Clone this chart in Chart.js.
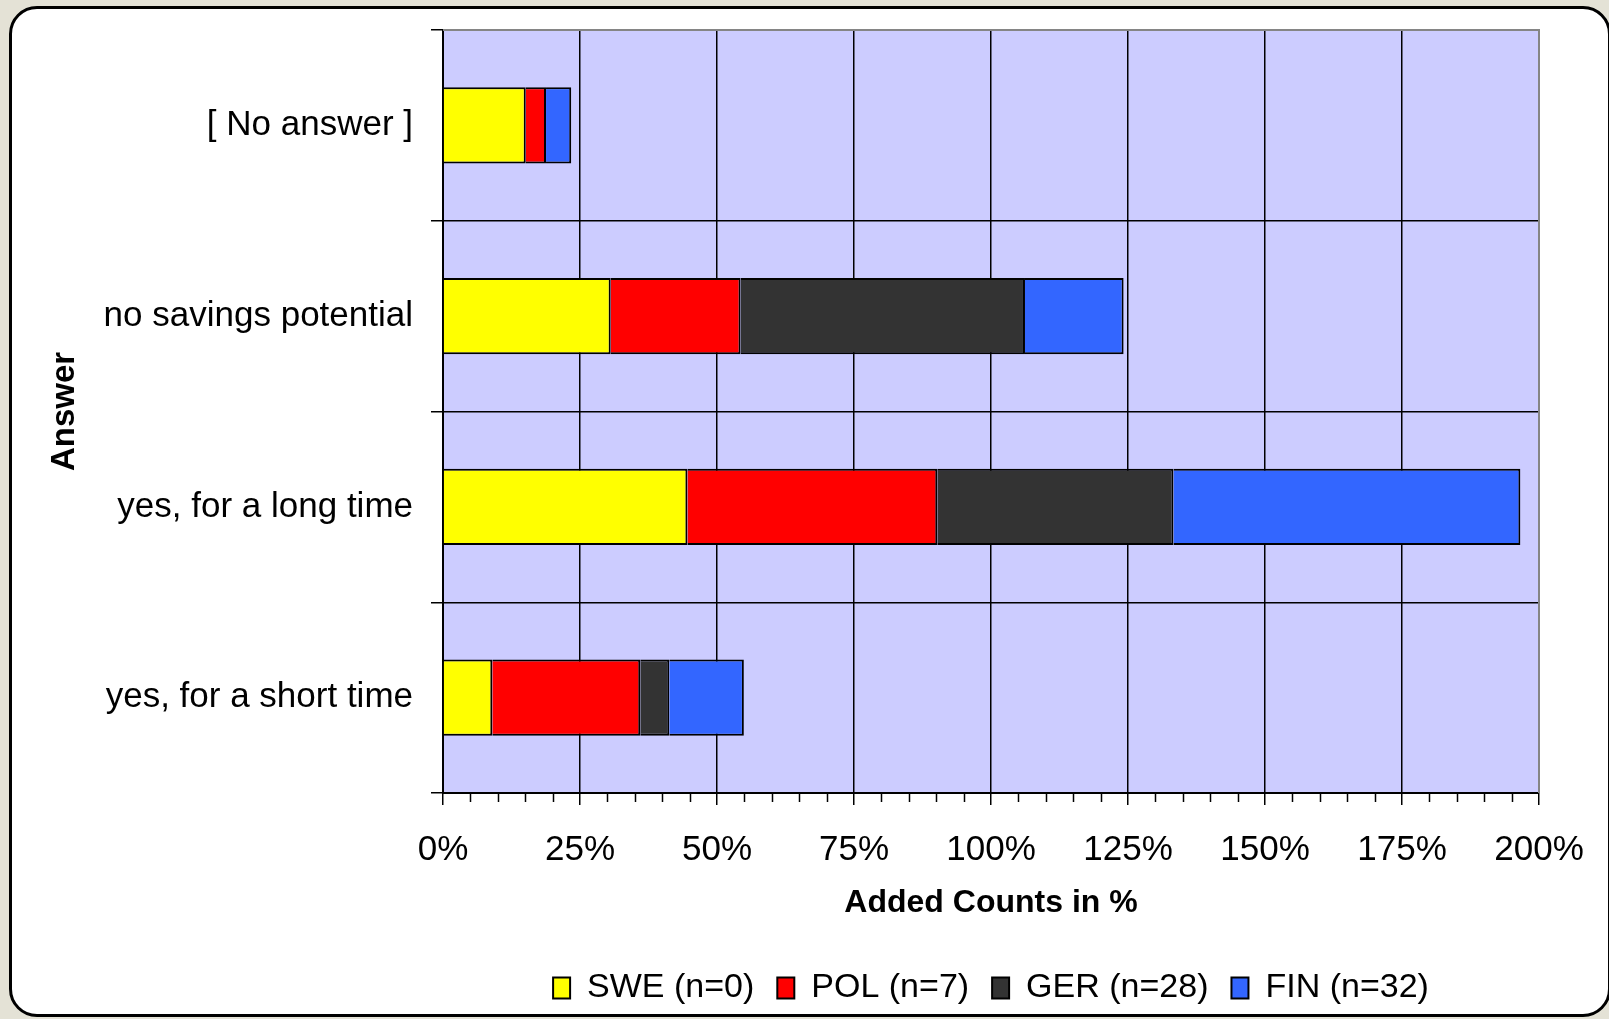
<!DOCTYPE html>
<html>
<head>
<meta charset="utf-8">
<script src="https://cdn.jsdelivr.net/npm/chart.js@4"></script>
<style>
  html, body { margin: 0; padding: 0; overflow: hidden; background: #e4e2d6; }
  .frame {
    position: absolute; left: 9px; top: 6px;
    width: 1596px; height: 1005px;
    background: #fff; border: 3px solid #000; border-radius: 28px;
  }
  .wrap { position: absolute; left: 0; top: 0; width: 1609px; height: 1019px; }
</style>
</head>
<body>
<div class="frame"></div>
<div class="wrap"><canvas id="chart"></canvas></div>
<script>
// categories (top to bottom)
const categories = ['[ No answer ]', 'no savings potential', 'yes, for a long time', 'yes, for a short time'];
const seriesNames = ['SWE (n=0)', 'POL (n=7)', 'GER (n=28)', 'FIN (n=32)'];

// added counts in %, one array per country
const swe = [15.1, 30.6, 44.6, 9.0];
const pol = [3.7, 23.7, 45.6, 27.0];
const ger = [0, 51.9, 43.1, 5.3];
const fin = [4.6, 18.0, 63.3, 13.6];

const xMax = 200;
const xStep = 25;
const minorStep = 5;

const colors = ['#ffff00', '#ff0000', '#333333', '#3366ff'];

Chart.defaults.font.family = "'Liberation Sans', Arial, sans-serif";
Chart.defaults.color = '#000';

// plot background, grey top/right frame and minor ticks
const plotDecor = {
    id: 'plotDecor',
    beforeDraw(chart) {
        const { ctx, chartArea: a } = chart;
        ctx.save();
        ctx.fillStyle = '#ccccff';
        ctx.fillRect(a.left, a.top, a.right - a.left, a.bottom - a.top);
        ctx.restore();
    },
    beforeDatasetsDraw(chart) {
        const { ctx, chartArea: a } = chart;
        ctx.save();
        ctx.strokeStyle = '#858585';
        ctx.lineWidth = 2;
        ctx.beginPath();
        ctx.moveTo(a.left, a.top);
        ctx.lineTo(a.right, a.top);
        ctx.lineTo(a.right, a.bottom);
        ctx.stroke();
        // minor ticks under the x axis
        const x = chart.scales.x;
        ctx.strokeStyle = '#000';
        ctx.lineWidth = 1.5;
        ctx.beginPath();
        for (let v = 0; v <= xMax; v += minorStep) {
            if (v % xStep === 0) continue;
            const px = Math.round(x.getPixelForValue(v)) + 0.5;
            ctx.moveTo(px, a.bottom);
            ctx.lineTo(px, a.bottom + 9);
        }
        ctx.stroke();
        ctx.restore();
    }
};

new Chart(document.getElementById('chart'), {
    type: 'bar',
    data: {
        labels: categories,
        datasets: [swe, pol, ger, fin].map((d, i) => ({
            label: seriesNames[i],
            data: d,
            backgroundColor: colors[i],
            borderColor: '#000',
            borderWidth: 2,
            categoryPercentage: 1,
            barPercentage: 0.4
        }))
    },
    options: {
        indexAxis: 'y',
        responsive: true,
        maintainAspectRatio: false,
        animation: false,
        layout: { padding: { top: 30, right: 70, left: 0, bottom: 4 } },
        plugins: {
            tooltip: { enabled: false },
            legend: {
                position: 'bottom',
                fullSize: false,
                labels: {
                    boxWidth: 17,
                    boxHeight: 21,
                    padding: 23,
                    font: { size: 34 },
                    color: '#000'
                }
            }
        },
        scales: {
            x: {
                stacked: true,
                min: 0,
                max: xMax,
                ticks: {
                    stepSize: xStep,
                    padding: 24,
                    font: { size: 35 },
                    color: '#000',
                    maxRotation: 0,
                    callback: v => v + '%'
                },
                grid: { color: '#000', lineWidth: 1.5, tickLength: 12 },
                border: { color: '#000', width: 2 },
                title: {
                    display: true,
                    text: 'Added Counts in %',
                    font: { size: 32, weight: 'bold' },
                    color: '#000',
                    padding: { top: 0, bottom: 26 }
                },
                afterFit(scale) { scale.height = 155; }
            },
            y: {
                stacked: true,
                ticks: { padding: 18, font: { size: 35 }, color: '#000' },
                grid: { color: '#000', lineWidth: 1.5, tickLength: 12 },
                border: { color: '#000', width: 2 },
                title: {
                    display: true,
                    text: 'Answer',
                    font: { size: 33, weight: 'bold' },
                    color: '#000',
                    padding: { top: 45, bottom: 0 }
                },
                afterFit(scale) {
                    scale.width = 443;
                    scale.paddingTop = 0;
                    scale.paddingBottom = 0;
                }
            }
        }
    },
    plugins: [plotDecor]
});
</script>
</body>
</html>
